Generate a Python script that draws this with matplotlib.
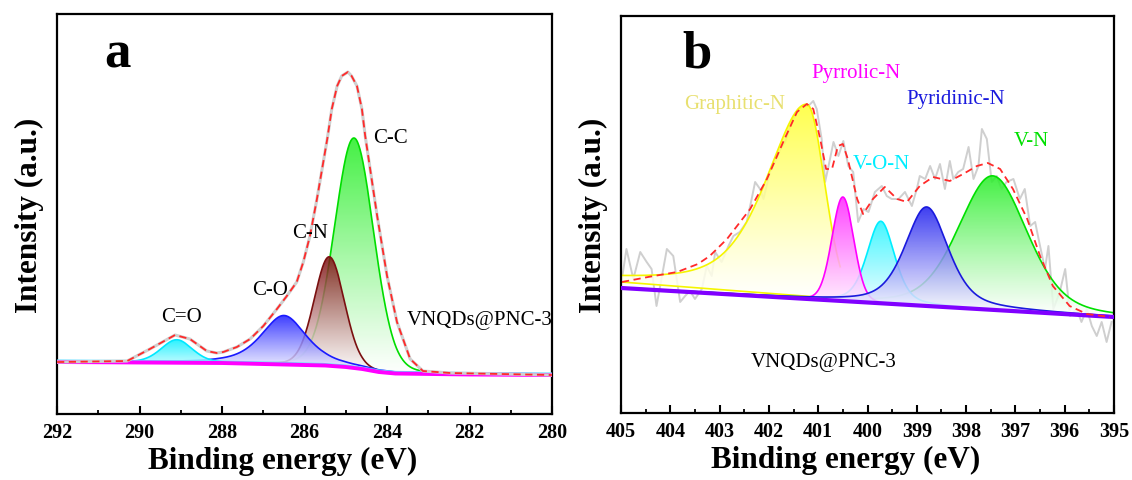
import numpy as np
import matplotlib
matplotlib.use('Agg')
import matplotlib.pyplot as plt
from matplotlib.colors import to_rgb
from matplotlib.patches import Polygon
from matplotlib.ticker import MultipleLocator

# ---------- data: panel a (C 1s) ----------
a_names = ['C-C', 'C-N', 'C-O', 'C=O']          # draw order
a_centers = [284.8, 285.4, 286.5, 289.1]
a_heights = [230, 109, 49, 23]
a_hw = [0.56, 0.43, 0.65, 0.45]                  # half width at half max
a_eta = [0.1, 0.1, 0.6, 0.3]                     # lorentz fraction
a_fill = ['#22EE22', '#7A0A0A', '#1A1AFF', '#00F0FF']
a_line = ['#00DD00', '#7A1010', '#1A1AFF', '#00E8FF']

a_base_e = [292.0, 288.0, 286.5, 285.5, 285.0, 284.6, 284.2, 283.8, 282.0, 280.0]
a_base_v = [52, 51, 49.5, 48.5, 47, 45, 42, 40.5, 39.5, 39]

a_env_e = [292.0, 291.93, 290.3, 289.75, 289.14, 288.78, 288.37, 288.13, 287.97, 287.64,
           287.32, 287.0, 286.67, 286.43, 286.19, 286.03, 285.87, 285.7, 285.45, 285.34,
           285.21, 285.1, 284.95, 284.86, 284.73, 284.61, 284.53, 284.24, 284.0, 283.76,
           283.44, 283.13, 282.47, 280.0]
a_env_v = [52, 52, 53, 65, 79, 75, 63, 61, 62, 67,
           75, 88, 105, 118, 132, 152, 178, 215, 275, 305,
           328, 338, 342, 338, 328, 305, 278, 198, 138, 92,
           55, 43, 41, 39]

# ---------- data: panel b (N 1s) ----------
b_names = ['Graphitic-N', 'V-N', 'V-O-N', 'Pyrrolic-N', 'Pyridinic-N']
b_centers = [401.23, 397.46, 399.73, 400.5, 398.8]
b_heights = [192, 134, 82, 104, 99]
b_hw_left = [0.97, 0.82, 0.33, 0.26, 0.52]       # high-energy side
b_hw_right = [0.42, 0.82, 0.33, 0.26, 0.52]      # low-energy side
b_eta_left = [0.55, 0.3, 0.4, 0.1, 0.5]
b_eta_right = [0.0, 0.3, 0.4, 0.1, 0.5]
b_fill = ['#FFFF30', '#22EE22', '#22F5FF', '#FF22FF', '#1A1AEE']
b_line = ['#F5F500', '#00E000', '#00EEFF', '#FF00FF', '#1A1ADD']
b_txt = ['#E8E070', '#00E000', '#00EEFF', '#FF00FF', '#1A1ADD']

b_base_e = [405.0, 395.0]
b_base_v = [125, 96]
b_gbase_e = [405.0, 400.5]                       # own baseline of Graphitic-N
b_gbase_v = [131, 114]

b_env_e = [404.98, 404.45, 403.86, 403.44, 403.2, 402.85, 402.38, 402.04, 401.71, 401.43,
           401.23, 401.1, 400.96, 400.84, 400.72, 400.6, 400.5, 400.4, 400.21, 400.09,
           399.89, 399.65, 399.4, 399.2, 398.94, 398.67, 398.33, 398.06, 397.78, 397.56,
           397.31, 397.05, 396.76, 396.5, 396.24, 395.9, 395.55, 395.08]
b_env_v = [131, 136, 141, 149, 157, 174, 204, 234, 271, 301,
           309, 304, 274, 244, 244, 267, 269, 254, 214, 199,
           214, 226, 214, 211, 227, 236, 232, 239, 247, 250,
           244, 224, 194, 157, 127, 107, 99, 96]

b_raw_e = [404.99, 404.89, 404.75, 404.61, 404.48, 404.38, 404.28, 404.18, 404.07, 403.94,
           403.8, 403.7, 403.6, 403.5, 403.36, 403.26, 403.16, 403.09, 402.96, 402.82,
           402.72, 402.59, 402.45, 402.35, 402.28, 402.18, 402.11, 401.98, 401.88, 401.77,
           401.67, 401.54, 401.4, 401.3, 401.2, 401.1, 401.03, 400.93, 400.86, 400.79,
           400.69, 400.59, 400.49, 400.39, 400.29, 400.19, 400.08, 399.98, 399.85, 399.71,
           399.61, 399.51, 399.37, 399.24, 399.1, 399.0, 398.94, 398.83, 398.73, 398.63,
           398.53, 398.43, 398.33, 398.26, 398.16, 398.06, 397.95, 397.85, 397.75, 397.68,
           397.58, 397.48, 397.38, 397.28, 397.18, 397.04, 396.91, 396.81, 396.7, 396.6,
           396.5, 396.4, 396.33, 396.23, 396.1, 395.99, 395.89, 395.76, 395.66, 395.55,
           395.45, 395.35, 395.25, 395.15, 395.05]
b_raw_v = [131, 164, 134, 161, 151, 144, 107, 134, 164, 157,
           111, 117, 122, 114, 124, 147, 137, 161, 151, 167,
           177, 181, 191, 214, 231, 224, 214, 241, 251, 264,
           271, 291, 304, 307, 307, 312, 304, 274, 231, 247,
           271, 257, 272, 247, 241, 191, 204, 201, 221, 227,
           217, 214, 214, 221, 207, 224, 237, 234, 247, 234,
           249, 224, 252, 234, 241, 244, 266, 234, 247, 284,
           274, 231, 237, 224, 231, 234, 214, 224, 187, 191,
           167, 144, 167, 104, 121, 144, 97, 104, 91, 104,
           87, 77, 91, 71, 91]

# ---------- style ----------
plt.rcParams.update({
    'font.family': ['Liberation Serif', 'DejaVu Serif'],
    'axes.linewidth': 1.6,
})


def pseudo_voigt(e, c, h, hwl, hwr, etal, etar):
    d = e - c
    hw = np.where(d > 0, hwl, hwr)
    eta = np.where(d > 0, etal, etar)
    r2 = (d / hw) ** 2
    return h * (eta / (1 + r2) + (1 - eta) * np.exp(-np.log(2) * r2))


def grad_peak(ax, e, base, top, fill, line, z, alpha=0.85):
    # vertical gradient (white -> colour) clipped to the peak area
    verts = np.vstack([np.column_stack([e, top]),
                       np.column_stack([e[::-1], base[::-1]])])
    clip = Polygon(verts, closed=True, fc='none', ec='none', transform=ax.transData)
    ax.add_patch(clip)
    t = np.linspace(0, 1, 256) ** 1.1
    rgb = np.array(to_rgb(fill))
    img = np.ones((256, 2, 4))
    img[:, :, :3] = (1 - t[:, None, None]) + t[:, None, None] * rgb
    img[:, :, 3] = alpha
    im = ax.imshow(img, origin='lower', aspect='auto', interpolation='bilinear',
                   extent=(e.min(), e.max(), base.min(), top.max()), zorder=z)
    im.set_clip_path(clip)
    ax.plot(e, top, color=line, lw=1.2, zorder=z + 0.05)


def style_axis(ax, major, minor):
    ax.xaxis.set_major_locator(MultipleLocator(major))
    ax.xaxis.set_minor_locator(MultipleLocator(minor))
    ax.tick_params(axis='x', which='major', direction='in', length=6, width=1.5,
                   labelsize=14.5, pad=6)
    ax.tick_params(axis='x', which='minor', direction='in', length=3, width=1.3)
    ax.set_yticks([])
    for lbl in ax.get_xticklabels():
        lbl.set_fontweight('bold')
    ax.set_xlabel('Binding energy (eV)', fontsize=22.5, fontweight='bold')
    ax.set_ylabel('Intensity (a.u.)', fontsize=22.5, fontweight='bold')
    ax.xaxis.set_label_coords(0.456, -0.08)
    ax.yaxis.set_label_coords(-0.027, 0.5)


fig = plt.figure(figsize=(11.32, 4.81), dpi=100)
ax1 = fig.add_axes([0.0504, 0.1372, 0.4373, 0.8316])
ax2 = fig.add_axes([0.5486, 0.1393, 0.4355, 0.8254])

# ---------- panel a ----------
e = np.linspace(280, 292, 1200)
base = np.interp(e, a_base_e[::-1], a_base_v[::-1])
for i in range(len(a_names)):
    pk = pseudo_voigt(e, a_centers[i], a_heights[i], a_hw[i], a_hw[i], a_eta[i], a_eta[i])
    grad_peak(ax1, e, base, base + pk, a_fill[i], a_line[i], 2 + i * 0.2)
ax1.plot(e, base + 2, color='#66DDFF', lw=0.8, zorder=3.5)
ax1.plot(a_base_e, a_base_v, color='#FF00FF', lw=2.8, zorder=4)
ax1.plot(a_env_e, a_env_v, color='#CFCFCF', lw=2.2, zorder=4.5)
ax1.plot(a_env_e, a_env_v, color='#FF2A2A', lw=1.3, ls=(0, (4, 2.5)), zorder=5)

a_lab_pos = {'C-C': (283.93, 277), 'C-N': (285.87, 182), 'C-O': (286.84, 125), 'C=O': (288.99, 98)}
for n, (x, y) in a_lab_pos.items():
    ax1.text(x, y, n, fontsize=15, ha='center', va='center', zorder=6)
ax1.text(281.75, 95, 'VNQDs@PNC-3', fontsize=15, ha='center', va='center', zorder=6)
ax1.text(0.121, 0.868, 'a', transform=ax1.transAxes, fontsize=38, fontweight='bold',
         ha='center', va='baseline')
ax1.set_xlim(292, 280)
ax1.set_ylim(0, 400)
style_axis(ax1, 2, 1)

# ---------- panel b ----------
e = np.linspace(395, 405, 1200)
base = np.interp(e, b_base_e[::-1], b_base_v[::-1])
ax2.plot(b_raw_e, b_raw_v, color='#CFCFCF', lw=1.4, zorder=1)
for i in range(len(b_names)):
    pk = pseudo_voigt(e, b_centers[i], b_heights[i], b_hw_left[i], b_hw_right[i],
                      b_eta_left[i], b_eta_right[i])
    if i == 0:
        m = e >= 400.55
        gb = np.interp(e[m], b_gbase_e[::-1], b_gbase_v[::-1])
        grad_peak(ax2, e[m], gb, gb + pk[m], b_fill[i], b_line[i], 2)
        ax2.plot(e[m], gb, color=b_line[i], lw=1.2, zorder=2.05)
    else:
        grad_peak(ax2, e, base, base + pk, b_fill[i], b_line[i], 2 + i * 0.2)
ax2.plot(b_base_e, b_base_v, color='#8000FF', lw=3, zorder=4)
ax2.plot(b_env_e, b_env_v, color='#FF2A2A', lw=1.3, ls=(0, (4, 2.5)), zorder=5)

b_lab_pos = {'Graphitic-N': (402.69, 309), 'V-N': (396.68, 272), 'V-O-N': (399.71, 249),
             'Pyrrolic-N': (400.23, 340), 'Pyridinic-N': (398.22, 314)}
for i, n in enumerate(b_names):
    x, y = b_lab_pos[n]
    ax2.text(x, y, n, fontsize=15, color=b_txt[i], ha='center', va='center', zorder=6)
ax2.text(400.88, 51, 'VNQDs@PNC-3', fontsize=15, ha='center', va='center', zorder=6)
ax2.text(0.154, 0.874, 'b', transform=ax2.transAxes, fontsize=38, fontweight='bold',
         ha='center', va='baseline')
ax2.set_xlim(405, 395)
ax2.set_ylim(0, 397)
style_axis(ax2, 1, 0.5)

fig.savefig('out.png', dpi=100, facecolor='white')
